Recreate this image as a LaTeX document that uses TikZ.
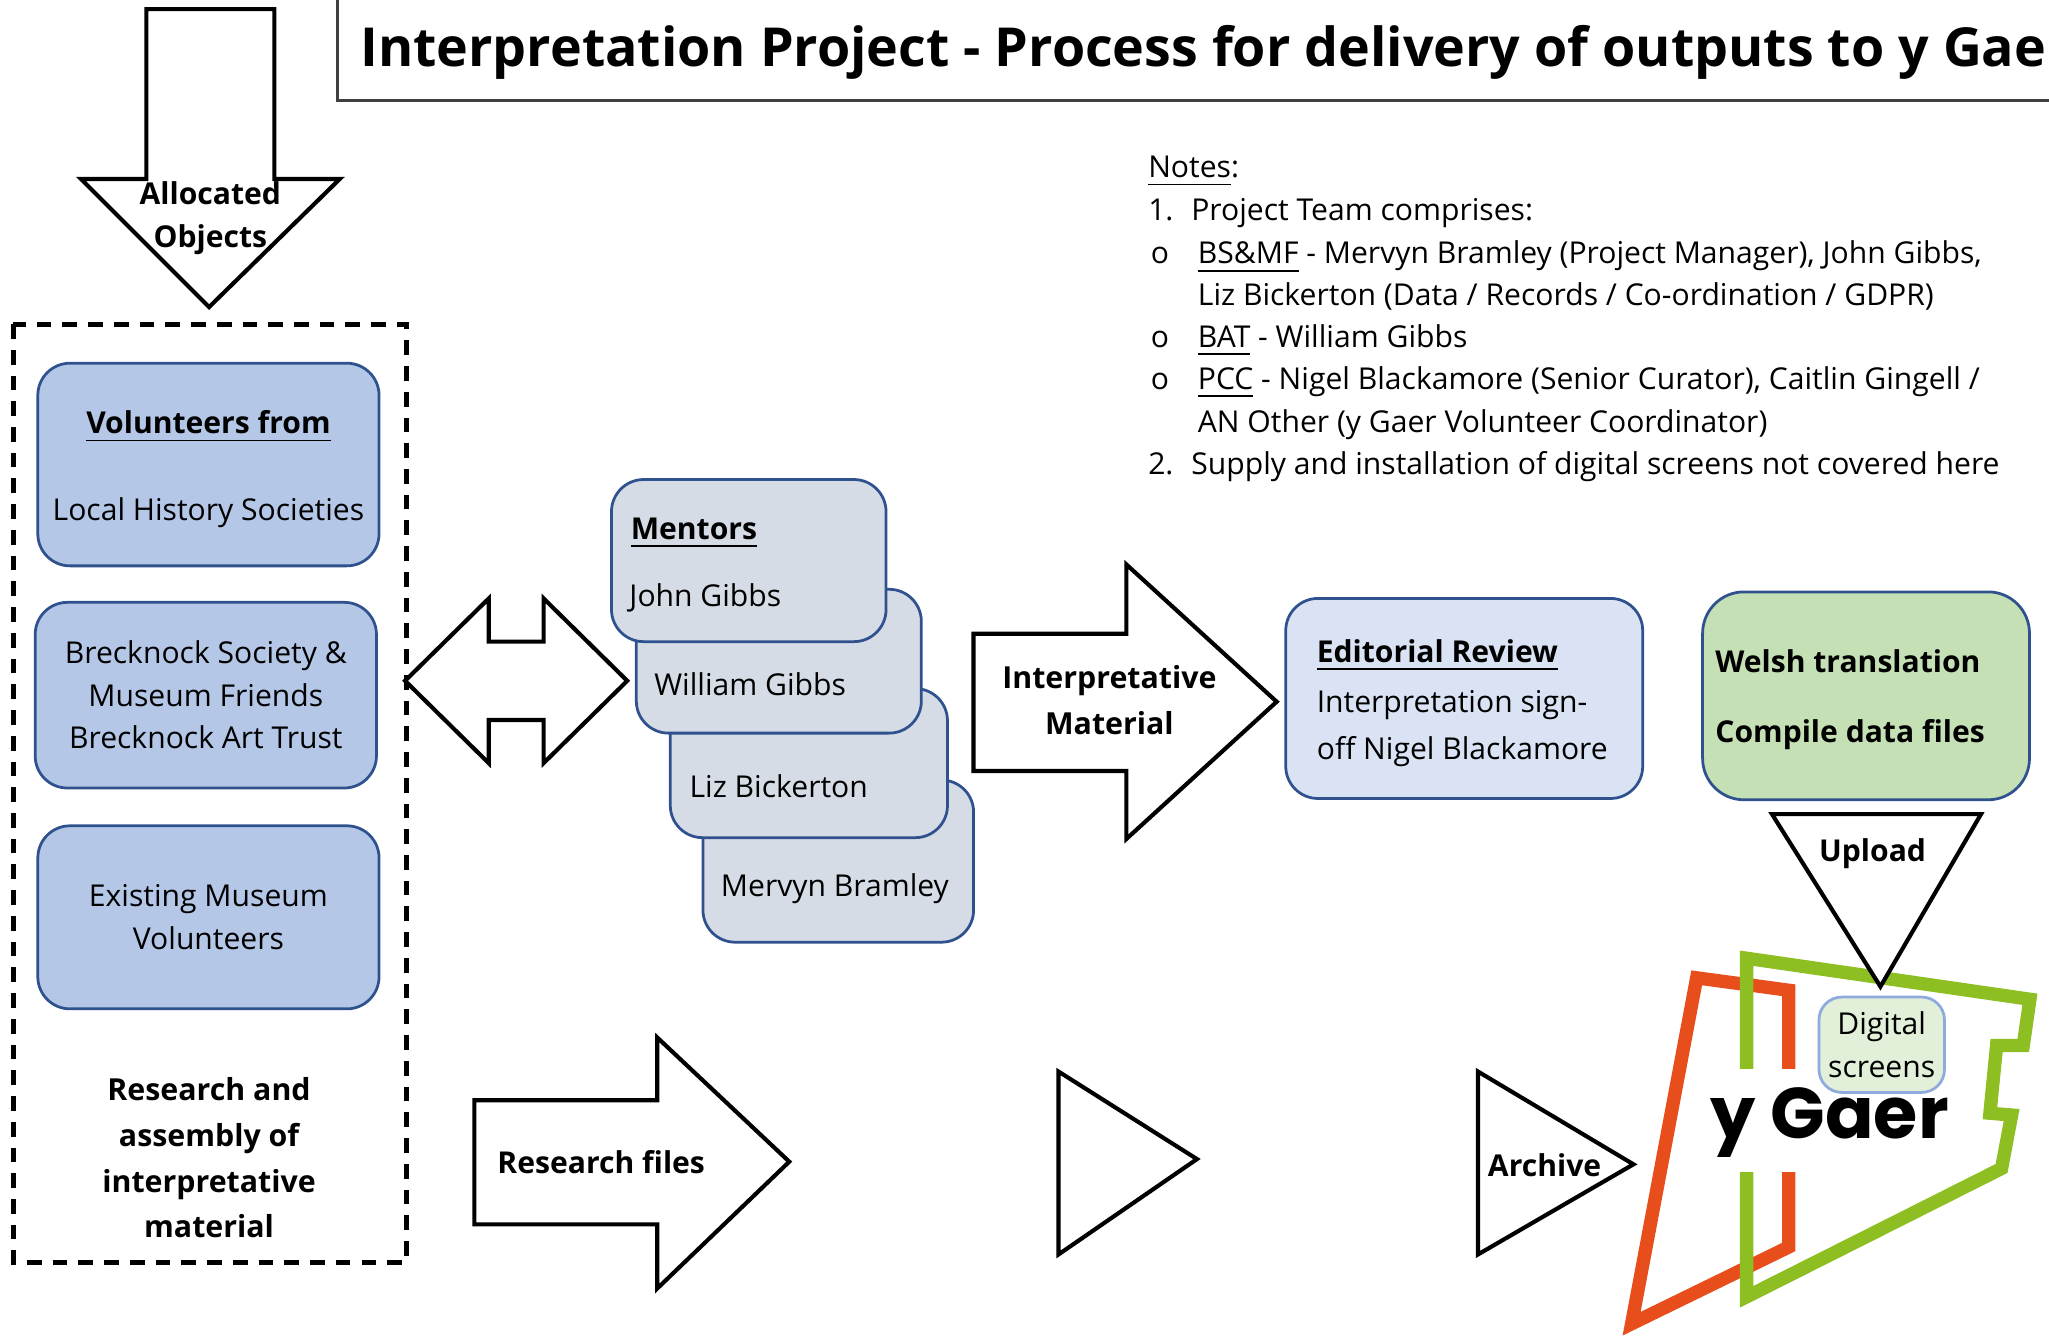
\documentclass[tikz,border=0pt]{standalone}
\usepackage{fontspec}
\setmainfont{Open Sans}
\newfontfamily\logofont{Poppins}
\usetikzlibrary{positioning}
\pgfdeclarelayer{logolayer}
\pgfsetlayers{logolayer,main}

\definecolor{volblue}{HTML}{B4C7E7}
\definecolor{boxedge}{HTML}{2F528F}
\definecolor{mentorgrey}{HTML}{D6DCE5}
\definecolor{reviewblue}{HTML}{DAE3F3}
\definecolor{welshgreen}{HTML}{C5E0B4}
\definecolor{screengreen}{HTML}{E2F0D9}
\definecolor{screenedge}{HTML}{8FAADC}
\definecolor{gaerorange}{HTML}{E84E1B}
\definecolor{gaergreen}{HTML}{8DBE22}

\newcommand{\bodysize}{\fontsize{6.55pt}{9.25pt}\selectfont}
\newcommand{\widesize}{\fontsize{6.6pt}{9.96pt}\selectfont}

\tikzset{
    txt/.style = {inner sep=0pt, font=\bodysize},
    boldtxt/.style = {inner sep=0pt, font=\bodysize\bfseries},
    volbox/.style = {draw=boxedge, line width=0.6pt, fill=volblue, rounded corners=7pt,
                     minimum width=2.61cm, align=center, font=\bodysize},
    mentorbox/.style = {draw=boxedge, line width=0.6pt, fill=mentorgrey, rounded corners=7pt},
    blockarrow/.style = {draw, line width=0.9pt, fill=white, line join=miter},
    gaerline/.style = {line width=2.9pt, line join=miter}
}

\begin{document}
\begin{tikzpicture}[x=0.01cm, y=-0.01cm]
  \useasboundingbox (0,0) rectangle (1568,1025);

  % title
  \draw [draw=black!75, line width=0.7pt] (258,-20) rectangle (1620,77);
  \node [inner sep=0pt, anchor=base west, font=\fontsize{11.7pt}{14pt}\selectfont\bfseries] (title) at (275,51)
    {Interpretation Project - Process for delivery of outputs to y Gaer};

  % allocated objects
  \draw [blockarrow] (112,7) -- (210,7) -- (210,137) -- (260,137) -- (160,235) -- (62,137) -- (112,137) -- cycle;
  \node [boldtxt, align=center] (alloc) at (161,167) {Allocated\\Objects};

  % volunteers
  \draw [line width=1.1pt, dash pattern=on 3.2pt off 2.4pt] (10,248) rectangle (311,966);
  \node [volbox, minimum height=1.55cm] (volunteers) at (159.5,355.5) {};
  \node [boldtxt, anchor=base] (volhead) at (159.5,332) {\underline{Volunteers from}};
  \node [txt, anchor=base] (localhist) at (159.5,398) {Local History Societies};
  \node [volbox, minimum height=1.42cm] (brecknock) at (157.5,532) {Brecknock Society \&\\Museum Friends\\Brecknock Art Trust};
  \node [volbox, minimum height=1.40cm] (existing) at (159.5,702) {Existing Museum\\Volunteers};
  \node [inner sep=0pt, align=center, font=\widesize\bfseries] (research) at (160,886)
    {Research and\\assembly of\\interpretative\\material};

  \draw [blockarrow] (310,521) -- (374,458) -- (374,491) -- (416,491) -- (416,458) -- (480,521)
    -- (416,584) -- (416,551) -- (374,551) -- (374,584) -- cycle;

  % mentors
  \node [mentorbox, minimum width=2.07cm, minimum height=1.24cm] (mervyn) at (641.5,659) {};
  \node [txt, anchor=base west] (mervyntxt) at (551,686) {Mervyn Bramley};
  \node [mentorbox, minimum width=2.12cm, minimum height=1.14cm] (liz) at (619,584) {};
  \node [txt, anchor=base west] (liztxt) at (527,610) {Liz Bickerton};
  \node [mentorbox, minimum width=2.18cm, minimum height=1.10cm] (william) at (596,506) {};
  \node [txt, anchor=base west] (williamtxt) at (500,532) {William Gibbs};
  \node [mentorbox, minimum width=2.10cm, minimum height=1.24cm] (mentors) at (573,429) {};
  \node [boldtxt, anchor=base west] (mentorshead) at (482,413) {\underline{Mentors}};
  \node [txt, anchor=base west] (john) at (481,464) {John Gibbs};

  \draw [blockarrow] (745,485) -- (862,485) -- (862,432) -- (977,537) -- (862,642) -- (862,590) -- (745,590) -- cycle;
  \node [inner sep=0pt, align=center, font=\widesize\bfseries] (interp) at (849,536) {Interpretative\\Material};

  % review and translation
  \node [draw=boxedge, line width=0.6pt, fill=reviewblue, rounded corners=7pt,
         minimum width=2.73cm, minimum height=1.53cm] (review) at (1120.5,534.5) {};
  \node [boldtxt, anchor=base west] (reviewhead) at (1007,507) {\underline{Editorial Review}};
  \node [txt, anchor=base west] (signoff) at (1007,545) {Interpretation sign-};
  \node [txt, anchor=base west] (nigel) at (1007,581) {off Nigel Blackamore};

  \node [draw=boxedge, line width=0.6pt, fill=welshgreen, rounded corners=9pt,
         minimum width=2.50cm, minimum height=1.59cm] (welsh) at (1428,532.5) {};
  \node [boldtxt, anchor=base west] (translate) at (1312,515) {Welsh translation};
  \node [boldtxt, anchor=base west] (compile) at (1312,568) {Compile data files};

  % y Gaer
  \begin{pgfonlayer}{logolayer}
    \draw [gaerorange, gaerline] (1368.8,818) -- (1368.8,757.8) -- (1298.4,748.3) -- (1248.6,1013)
      -- (1368.8,954.3) -- (1368.8,897);
    \draw [gaergreen, gaerline] (1336.6,818) -- (1336.6,733.3) -- (1553.4,764.7) -- (1548.3,800.1)
      -- (1527.9,800.1) -- (1522.8,851.9) -- (1539.4,853.3) -- (1531.7,894.2) -- (1336.6,992.4) -- (1336.6,897);
  \end{pgfonlayer}
  \node [inner sep=0pt, anchor=base west, font=\logofont\fontsize{15.6pt}{18pt}\selectfont\bfseries] (gaer) at (1308,871) {y Gaer};
  \node [draw=screenedge, line width=0.6pt, fill=screengreen, rounded corners=5pt, inner sep=0pt,
         minimum width=0.96cm, minimum height=0.73cm, align=center, font=\bodysize] (screens) at (1440,799.5) {Digital\\screens};

  \draw [blockarrow] (1356,623) -- (1516,623) -- (1439,755) -- cycle;
  \node [boldtxt, anchor=base] (upload) at (1433,659) {Upload};

  % bottom row
  \draw [blockarrow] (363,842) -- (503,842) -- (503,794) -- (604,889) -- (503,986) -- (503,937) -- (363,937) -- cycle;
  \node [boldtxt, anchor=base west] (resfiles) at (380,898) {Research files};
  \draw [blockarrow] (810,820) -- (916,887) -- (810,960) -- cycle;
  \draw [blockarrow] (1131,820) -- (1250,891) -- (1131,960) -- cycle;
  \node [boldtxt, anchor=base] (archive) at (1182,900) {Archive};

  % notes
  \node [txt, anchor=base west] (notes) at (878,136) {\underline{Notes}:};
  \node [txt, anchor=base west] (one) at (878,169) {1.};
  \node [txt, anchor=base west] (onetxt) at (911,169) {Project Team comprises:};
  \foreach \yy in {202,266,298}
    \node [txt, anchor=base west] (bullet\yy) at (880,\yy) {o};
  \node [txt, anchor=base west] (bsmf) at (916,202) {\underline{BS\&MF} - Mervyn Bramley (Project Manager), John Gibbs,};
  \node [txt, anchor=base west] (bsmfmore) at (916,234) {Liz Bickerton (Data / Records / Co-ordination / GDPR)};
  \node [txt, anchor=base west] (bat) at (916,266) {\underline{BAT} - William Gibbs};
  \node [txt, anchor=base west] (pcc) at (916,298) {\underline{PCC} - Nigel Blackamore (Senior Curator), Caitlin Gingell /};
  \node [txt, anchor=base west] (pccmore) at (916,331) {AN Other (y Gaer Volunteer Coordinator)};
  \node [txt, anchor=base west] (two) at (878,363) {2.};
  \node [txt, anchor=base west] (twotxt) at (911,363) {Supply and installation of digital screens not covered here};
\end{tikzpicture}
\end{document}
